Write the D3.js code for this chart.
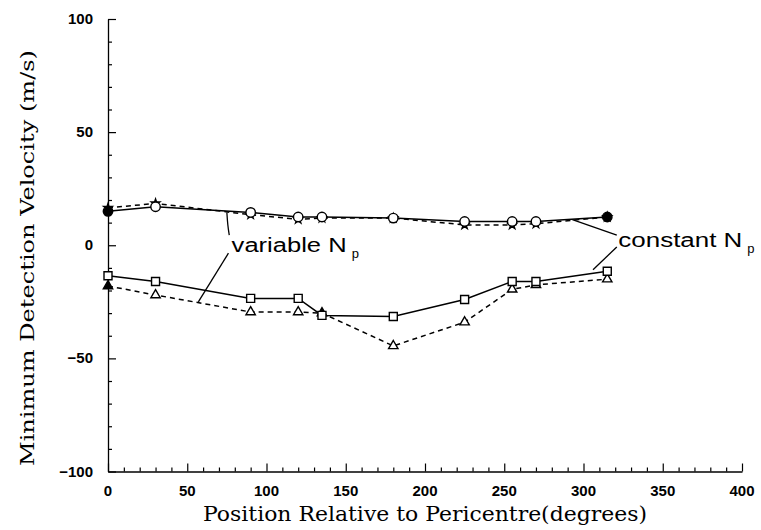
<!DOCTYPE html>
<html>
<head>
<meta charset="utf-8">
<script src="https://cdn.jsdelivr.net/npm/d3@7"></script>
<style>
  body { margin: 0; background: #fff; }
  svg { display: block; }
</style>
</head>
<body>
<svg class="target"></svg>
<script>
// positions relative to pericentre (degrees)
var positions = [0, 30, 90, 120, 135, 180, 225, 255, 270, 315];
// minimum detection velocity (m/s)
var topConstant    = [15, 17, 14.5, 12.5, 12.5, 12, 10.5, 10.5, 10.5, 12.5];
var topVariable    = [16.5, 18.5, 13.5, 11.5, 12, 12, 9, 9, 9.5, 12.5];
var bottomConstant = [-13.5, -16, -23.5, -23.5, -31, -31.5, -24, -16, -16, -11.5];
var bottomVariable = [-18, -22, -29.5, -29.5, -30, -44.5, -34, -19.5, -17.5, -15];

var xTicks = [0, 50, 100, 150, 200, 250, 300, 350, 400];
var yTicks = [-100, -50, 0, 50, 100];

// annotation leader lines, in data units
var variableLeaders = [
    [[75, 14.5], [75.5, 9], [76.5, 4.5]],
    [[76, -3.5], [57, -25]]
];
var constantLeaders = [
    [[321, 4.5], [293, 11.3]],
    [[321, -0.8], [306, -10.8]]
];

var view_w = 761;
var view_h = 530;
const svg = d3.select(".target").attr("width", view_w).attr("height", view_h);

var x = d3.scaleLinear().domain([0, 400]).range([108, 742]);
var y = d3.scaleLinear().domain([-100, 100]).range([471.5, 19]);

// axes
var xAxis = d3.axisBottom(x).tickValues(d3.range(0, 401, 10)).tickSizeInner(-4).tickSizeOuter(0).tickFormat("");
var gx = svg.append("g").attr("transform", "translate(0," + y(-100) + ")").call(xAxis);
gx.selectAll(".tick line").filter(function (d) { return d % 50 === 0; }).attr("y2", -8);

var yAxis = d3.axisLeft(y).tickValues(d3.range(-100, 101, 10)).tickSizeInner(-4).tickSizeOuter(0).tickFormat("");
var gy = svg.append("g").attr("transform", "translate(" + x(0) + ",0)").call(yAxis);
gy.selectAll(".tick line").filter(function (d) { return d % 50 === 0; }).attr("x2", 8);

svg.selectAll(".domain").attr("stroke", "#000").attr("stroke-width", 1.3);
svg.selectAll(".tick line").attr("stroke", "#000").attr("stroke-width", 1.2);

svg.append("g").selectAll("text").data(xTicks).join("text")
    .attr("x", function (d) { return x(d); })
    .attr("y", 496)
    .attr("text-anchor", "middle")
    .style("font", "bold 15px 'Liberation Sans', Arial, sans-serif")
    .text(function (d) { return d; });

svg.append("g").selectAll("text").data(yTicks).join("text")
    .attr("x", 93)
    .attr("y", function (d) { return y(d) + 5; })
    .attr("text-anchor", "end")
    .style("font", "bold 15px 'Liberation Sans', Arial, sans-serif")
    .text(function (d) { return d < 0 ? "\u2212" + Math.abs(d) : d; });

// axis titles
svg.append("text")
    .attr("x", 425).attr("y", 521)
    .attr("text-anchor", "middle")
    .attr("textLength", 444).attr("lengthAdjust", "spacingAndGlyphs")
    .style("font", "20px 'DejaVu Serif', serif")
    .text("Position Relative to Pericentre(degrees)");

svg.append("text")
    .attr("transform", "translate(34,258) rotate(-90)")
    .attr("text-anchor", "middle")
    .attr("textLength", 416).attr("lengthAdjust", "spacingAndGlyphs")
    .style("font", "19px 'DejaVu Serif', serif")
    .text("Minimum Detection Velocity (m/s)");

// series
var line = d3.line()
    .x(function (d) { return x(d[0]); })
    .y(function (d) { return y(d[1]); });

var draw_series = function (values, dashed) {
    svg.append("path")
        .datum(d3.zip(positions, values))
        .attr("d", line)
        .attr("fill", "none")
        .attr("stroke", "#000")
        .attr("stroke-width", 1.5)
        .attr("stroke-dasharray", dashed ? "5,4" : null);
}

var draw_markers = function (values, symbol, size, filled) {
    svg.append("g").selectAll("path")
        .data(d3.zip(positions, values))
        .join("path")
        .attr("transform", function (d) { return "translate(" + x(d[0]) + "," + y(d[1]) + ")"; })
        .attr("d", d3.symbol().type(symbol).size(size))
        .attr("fill", function (d, i) { return filled(i) ? "#000" : "#fff"; })
        .attr("stroke", "#000")
        .attr("stroke-width", 1.4);
}

draw_series(topVariable, true);
draw_series(topConstant, false);
draw_series(bottomVariable, true);
draw_series(bottomConstant, false);

draw_markers(topVariable, d3.symbolStar, 22, function () { return true; });
draw_markers(topConstant, d3.symbolCircle, 70, function (i) { return i === 0 || i === positions.length - 1; });
draw_markers(bottomVariable, d3.symbolTriangle, 38, function (i) { return i === 0 || i === 4; });
draw_markers(bottomConstant, d3.symbolSquare, 64, function () { return false; });

// annotations
var leader = d3.line().curve(d3.curveBasis)
    .x(function (d) { return x(d[0]); })
    .y(function (d) { return y(d[1]); });

variableLeaders.concat(constantLeaders).forEach(function (pts) {
    svg.append("path")
        .attr("d", leader(pts))
        .attr("fill", "none")
        .attr("stroke", "#000")
        .attr("stroke-width", 1.3);
});

var draw_label = function (px, py, word, width) {
    svg.append("text")
        .attr("x", x(px)).attr("y", y(py))
        .attr("textLength", width).attr("lengthAdjust", "spacingAndGlyphs")
        .style("font", "20px 'Liberation Sans', Arial, sans-serif")
        .text(word + " N");
    svg.append("text")
        .attr("x", x(px) + width + 5).attr("y", y(py) + 6)
        .style("font", "13px 'Liberation Sans', Arial, sans-serif")
        .text("p");
}

draw_label(78, -3.2, "variable", 115);
draw_label(322, -0.6, "constant", 124);
</script>
</body>
</html>
